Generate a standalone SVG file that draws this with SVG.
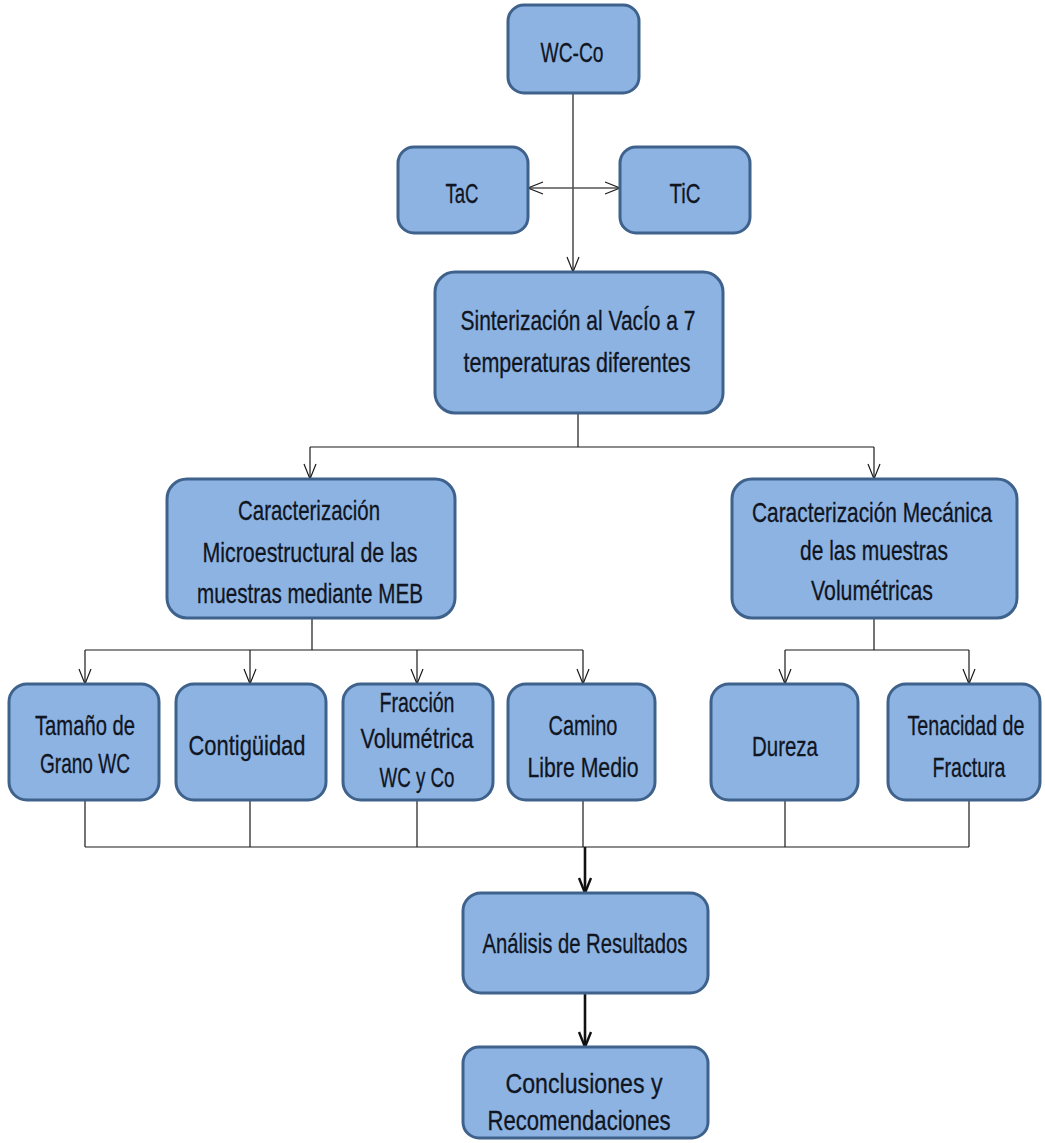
<svg xmlns="http://www.w3.org/2000/svg" width="1045" height="1143" viewBox="0 0 1045 1143">
<style>
.box{fill:#8db3e2;stroke:#3f628d;stroke-width:3}
.t{font-family:"Liberation Sans",Arial,sans-serif;font-size:28px;fill:#10151f;stroke:#10151f;stroke-width:0.3;text-anchor:middle}
.s{font-size:22px;stroke-width:0.25}
.c{fill:none;stroke:#1a1a1a;stroke-width:1.2}
.g{fill:none;stroke:#555;stroke-width:1.5}
.k{fill:none;stroke:#111;stroke-width:2.6}
</style>
<defs>
<marker id="a" markerUnits="userSpaceOnUse" markerWidth="20" markerHeight="16" viewBox="-17 -8 19 16" refX="0" refY="0" orient="auto">
<path d="M-15,-6 L0,0 L-15,6" fill="none" stroke="#1a1a1a" stroke-width="1.2"/>
</marker>
<marker id="ak" markerUnits="userSpaceOnUse" markerWidth="20" markerHeight="16" viewBox="-17 -8 19 16" refX="0" refY="0" orient="auto">
<path d="M-15,-6 L0,0 L-15,6" fill="none" stroke="#111" stroke-width="2.4"/>
</marker>
</defs>
<rect width="1045" height="1143" fill="#fff"/>
<g id="connectors">
<path class="c" d="M573,93 V272" marker-end="url(#a)"/>
<path class="g" d="M573,188 H528" marker-end="url(#a)"/>
<path class="g" d="M573,188 H620" marker-end="url(#a)"/>
<path class="c" d="M578,413 V447 M310,447 H874"/>
<path class="c" d="M310,447 V479" marker-end="url(#a)"/>
<path class="c" d="M874,447 V479" marker-end="url(#a)"/>
<path class="c" d="M312,618 V650 M85,650 H583"/>
<path class="c" d="M85,650 V684" marker-end="url(#a)"/>
<path class="c" d="M250,650 V684" marker-end="url(#a)"/>
<path class="c" d="M417,650 V684" marker-end="url(#a)"/>
<path class="c" d="M583,650 V684" marker-end="url(#a)"/>
<path class="c" d="M874,618 V650 M785,650 H969"/>
<path class="c" d="M785,650 V684" marker-end="url(#a)"/>
<path class="c" d="M969,650 V684" marker-end="url(#a)"/>
<path class="c" d="M85,800 V847 M250,800 V847 M417,800 V847 M583,800 V847 M785,800 V847 M969,800 V847 M85,847 H969"/>
<path class="k" d="M585,847 V893" marker-end="url(#ak)"/>
<path class="k" d="M585,993 V1047" marker-end="url(#ak)"/>
</g>
<g id="wcco"><rect class="box" x="508" y="5" width="131" height="88" rx="16"/><text class="t" x="572" y="62" textLength="63" lengthAdjust="spacingAndGlyphs">WC-Co</text></g>
<g id="tac"><rect class="box" x="398" y="147" width="130" height="86" rx="16"/><text class="t" x="462" y="203" textLength="33" lengthAdjust="spacingAndGlyphs">TaC</text></g>
<g id="tic"><rect class="box" x="620" y="147" width="130" height="86" rx="16"/><text class="t" x="685" y="203" textLength="31" lengthAdjust="spacingAndGlyphs">TiC</text></g>
<g id="sinterizacion"><rect class="box" x="435" y="272" width="288" height="141" rx="20"/>
<text class="t" x="578" y="330" textLength="235" lengthAdjust="spacingAndGlyphs">Sinterización  al VacÍo a 7</text>
<text class="t" x="577" y="372" textLength="227" lengthAdjust="spacingAndGlyphs">temperaturas diferentes</text></g>
<g id="micro"><rect class="box" x="167" y="479" width="288" height="139" rx="20"/>
<text class="t" x="309" y="520" textLength="142" lengthAdjust="spacingAndGlyphs">Caracterización</text>
<text class="t" x="310" y="562" textLength="215" lengthAdjust="spacingAndGlyphs">Microestructural de las</text>
<text class="t" x="310" y="603" textLength="226" lengthAdjust="spacingAndGlyphs">muestras mediante MEB</text></g>
<g id="mecanica"><rect class="box" x="732" y="479" width="285" height="139" rx="20"/>
<text class="t s" transform="translate(872,522) scale(1,1.27)" x="0" y="0" textLength="240" lengthAdjust="spacingAndGlyphs">Caracterización Mecánica</text>
<text class="t" x="874" y="560" textLength="148" lengthAdjust="spacingAndGlyphs">de  las muestras</text>
<text class="t" x="872" y="600" textLength="122" lengthAdjust="spacingAndGlyphs">Volumétricas</text></g>
<g id="tamano"><rect class="box" x="9" y="684" width="150" height="116" rx="18"/>
<text class="t" x="85" y="735" textLength="100" lengthAdjust="spacingAndGlyphs">Tamaño de</text>
<text class="t" x="85" y="773" textLength="90" lengthAdjust="spacingAndGlyphs">Grano WC</text></g>
<g id="contiguidad"><rect class="box" x="176" y="684" width="150" height="116" rx="18"/>
<text class="t" x="247" y="755" textLength="117" lengthAdjust="spacingAndGlyphs">Contigüidad</text></g>
<g id="fraccion"><rect class="box" x="343" y="684" width="150" height="116" rx="18"/>
<text class="t" x="417" y="712" textLength="75" lengthAdjust="spacingAndGlyphs">Fracción</text>
<text class="t" x="417" y="748" textLength="113" lengthAdjust="spacingAndGlyphs">Volumétrica</text>
<text class="t" x="417" y="787" textLength="75" lengthAdjust="spacingAndGlyphs">WC y Co</text></g>
<g id="camino"><rect class="box" x="508" y="684" width="147" height="116" rx="18"/>
<text class="t" x="583" y="735" textLength="69" lengthAdjust="spacingAndGlyphs">Camino</text>
<text class="t" x="583" y="777" textLength="111" lengthAdjust="spacingAndGlyphs">Libre Medio</text></g>
<g id="dureza"><rect class="box" x="711" y="684" width="147" height="116" rx="18"/>
<text class="t" x="785" y="756" textLength="66" lengthAdjust="spacingAndGlyphs">Dureza</text></g>
<g id="tenacidad"><rect class="box" x="888" y="684" width="152" height="116" rx="18"/>
<text class="t s" transform="translate(966,735) scale(1,1.27)" x="0" y="0" textLength="117" lengthAdjust="spacingAndGlyphs">Tenacidad de</text>
<text class="t" x="969" y="777" textLength="73" lengthAdjust="spacingAndGlyphs">Fractura</text></g>
<g id="analisis"><rect class="box" x="463" y="893" width="245" height="100" rx="18"/>
<text class="t" x="585" y="953" textLength="205" lengthAdjust="spacingAndGlyphs">Análisis de Resultados</text></g>
<g id="conclusiones"><rect class="box" x="463" y="1047" width="245" height="91" rx="16"/>
<text class="t" x="584" y="1093" textLength="157" lengthAdjust="spacingAndGlyphs">Conclusiones y</text>
<text class="t" x="579" y="1130" textLength="183" lengthAdjust="spacingAndGlyphs">Recomendaciones</text></g>
</svg>
